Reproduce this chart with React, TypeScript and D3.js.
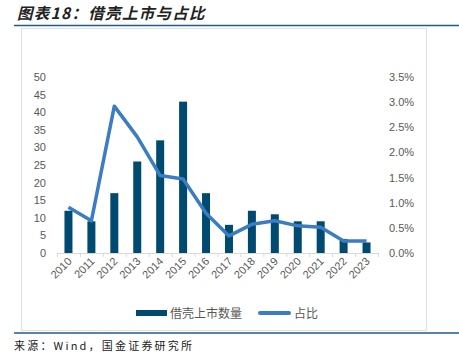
import React, { useEffect, useRef } from "react";
import * as d3 from "d3";

// data
const years = ["2010", "2011", "2012", "2013", "2014", "2015", "2016", "2017", "2018", "2019", "2020", "2021", "2022", "2023"];
const counts = [12, 9, 17, 26, 32, 43, 17, 8, 12, 11, 9, 9, 4, 3];
const shares = [0.91, 0.64, 2.92, 2.31, 1.54, 1.47, 0.79, 0.34, 0.57, 0.64, 0.54, 0.51, 0.24, 0.24];
const leftTicks = [0, 5, 10, 15, 20, 25, 30, 35, 40, 45, 50];
const rightTicks = [0, 0.5, 1, 1.5, 2, 2.5, 3, 3.5];

const BAR = "#004a70";
const LINE = "#3c7cc2";
const TXT = "#595959";
const FONT = "'Liberation Sans', Arial, sans-serif";

function App() {
  const ref = useRef<SVGSVGElement>(null);

  useEffect(() => {
    const svg = d3.select(ref.current);
    svg.selectAll("*").remove();

    // title + frame
    svg.append("text").attr("x", 17).attr("y", 19)
      .attr("font-family", "'Noto Sans CJK SC', sans-serif")
      .attr("font-size", 15.5).attr("font-weight", "bold").attr("font-style", "italic")
      .attr("letter-spacing", 1.3)
      .attr("fill", "#222").text("图表18：借壳上市与占比");
    svg.append("line").attr("x1", 14).attr("x2", 459).attr("y1", 25.5).attr("y2", 25.5)
      .attr("stroke", "#1f5c8a").attr("stroke-width", 1.5);
    svg.append("rect").attr("x", 21.5).attr("y", 28.5).attr("width", 405).attr("height", 302)
      .attr("fill", "none").attr("stroke", "#e0e0e0");
    svg.append("line").attr("x1", 14).attr("x2", 459).attr("y1", 333).attr("y2", 333)
      .attr("stroke", "#1f5c8a").attr("stroke-width", 1.5);
    svg.append("text").attr("x", 14).attr("y", 350)
      .attr("font-family", "'Noto Sans CJK SC', monospace")
      .attr("font-size", 11).attr("letter-spacing", 2.2).attr("fill", "#222")
      .text("来源：Wind，国金证券研究所");

    const x = d3.scaleBand().domain(years).range([57, 378]);
    const yL = d3.scaleLinear().domain([0, 50]).range([253, 77]);
    const yR = d3.scaleLinear().domain([0, 3.5]).range([253, 77]);

    // left axis labels
    svg.append("g").selectAll("text").data(leftTicks).enter().append("text")
      .attr("x", 46).attr("y", (d) => yL(d) + 4).attr("text-anchor", "end")
      .attr("font-family", FONT).attr("font-size", 11).attr("fill", TXT)
      .text((d) => d);

    // right axis labels
    svg.append("g").selectAll("text").data(rightTicks).enter().append("text")
      .attr("x", 389).attr("y", (d) => yR(d) + 4)
      .attr("font-family", FONT).attr("font-size", 11).attr("fill", TXT)
      .text((d) => d.toFixed(1) + "%");

    // baseline with ticks
    svg.append("line").attr("x1", 57).attr("x2", 378).attr("y1", 253.5).attr("y2", 253.5)
      .attr("stroke", "#d9d9d9");
    svg.append("g").selectAll("line").data(years.concat(["end"])).enter().append("line")
      .attr("x1", (d, i) => 57 + i * x.step() + 0.5).attr("x2", (d, i) => 57 + i * x.step() + 0.5)
      .attr("y1", 253).attr("y2", 257).attr("stroke", "#d9d9d9");

    // bars
    const bw = 8;
    svg.append("g").selectAll("rect").data(counts).enter().append("rect")
      .attr("x", (d, i) => x(years[i])! + x.bandwidth() / 2 - bw / 2)
      .attr("y", (d) => yL(d)).attr("width", bw).attr("height", (d) => yL(0) - yL(d))
      .attr("fill", BAR);

    // line
    const line = d3.line<number>()
      .x((d, i) => x(years[i])! + x.bandwidth() / 2)
      .y((d) => yR(d));
    svg.append("path").datum(shares).attr("d", line).attr("fill", "none")
      .attr("stroke", LINE).attr("stroke-width", 3.5).attr("stroke-linejoin", "round");

    // x labels
    svg.append("g").selectAll("text").data(years).enter().append("text")
      .attr("transform", (d) => `translate(${x(d)! + x.bandwidth() / 2 + 4},${262}) rotate(-45)`)
      .attr("text-anchor", "end")
      .attr("font-family", FONT).attr("font-size", 11).attr("fill", TXT)
      .text((d) => d);

    // legend
    const lg = svg.append("g").attr("font-family", "'Noto Sans CJK SC', sans-serif")
      .attr("font-size", 12).attr("fill", TXT);
    lg.append("rect").attr("x", 136).attr("y", 310).attr("width", 31).attr("height", 6).attr("fill", BAR);
    lg.append("text").attr("x", 170).attr("y", 318).text("借壳上市数量");
    lg.append("line").attr("x1", 260).attr("x2", 289).attr("y1", 313).attr("y2", 313)
      .attr("stroke", LINE).attr("stroke-width", 4).attr("stroke-linecap", "round");
    lg.append("text").attr("x", 294).attr("y", 318).text("占比");
  }, []);

  return <svg ref={ref} width={459} height={353} style={{ position: "absolute", left: 0, top: 0 }} />;
}

export default App;
